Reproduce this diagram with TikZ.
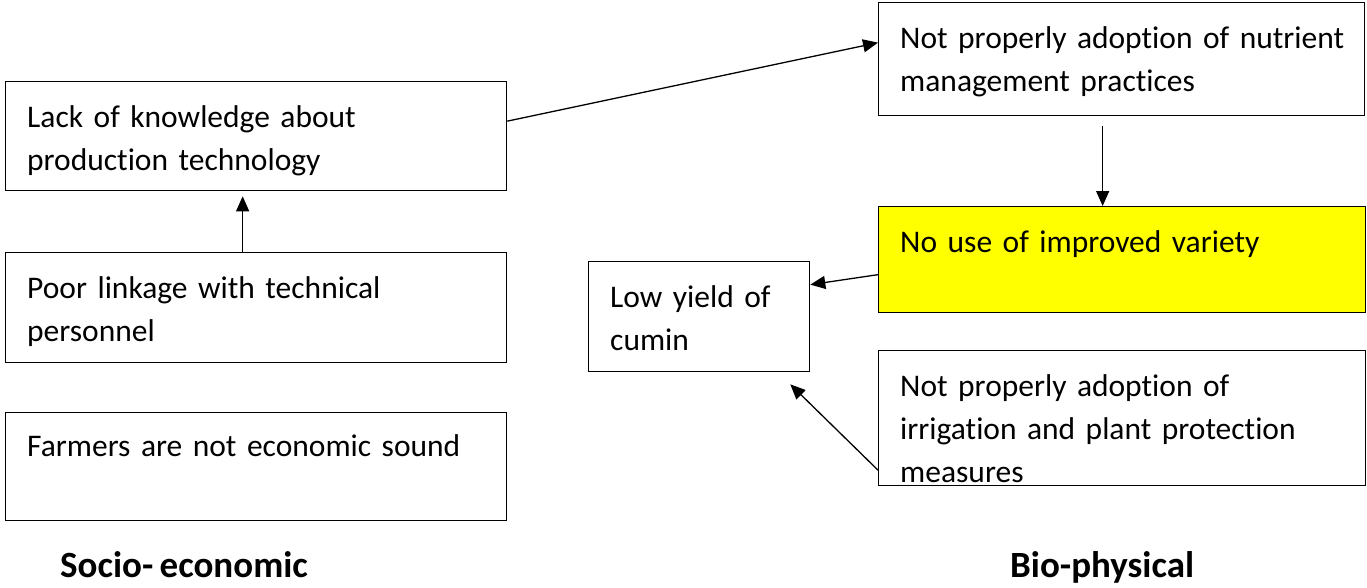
\documentclass[tikz,border=0pt]{standalone}
\usepackage{fontspec}
\setmainfont[Ligatures=NoCommon, WordSpace=0.75]{Carlito}
\usetikzlibrary{arrows.meta}
\begin{document}
\begin{tikzpicture}[x=1pt,y=-1pt,
  box/.style={draw=black, line width=1.3pt, anchor=north west, inner sep=0pt, rectangle},
  txt/.style={anchor=base west, inner sep=0pt, align=left, text width=470pt,
    font=\fontsize{31.5}{43}\selectfont},
  lbl/.style={anchor=base west, inner sep=0pt, font=\fontsize{37}{44}\selectfont\bfseries},
  arr/.style={line width=1.3pt, -{Triangle[length=15pt,width=13pt]}}]
\useasboundingbox (0,0) rectangle (1367,587);
% boxes
\node[box, minimum width=501pt, minimum height=109pt] (lack) at (5,81) {};
\node[box, minimum width=501pt, minimum height=110pt] (poor) at (5,252) {};
\node[box, minimum width=501pt, minimum height=108pt] (farm) at (5,412) {};
\node[box, minimum width=486pt, minimum height=113pt] (nutr) at (878,2) {};
\node[box, fill={rgb,255:red,255;green,255;blue,0}, minimum width=487pt, minimum height=106pt] (var) at (878,206) {};
\node[box, minimum width=221pt, minimum height=110pt] (low) at (588,261) {};
\node[box, minimum width=487pt, minimum height=135pt] (irr) at (878,350) {};
% texts
\node[txt] (lackT) at (27,127) {Lack of knowledge about\\production technology};
\node[txt] (poorT) at (27,298) {Poor linkage with technical\\personnel};
\node[txt] (farmT) at (27,456) {Farmers are not economic sound};
\node[txt] (nutrT) at (900,48) {Not properly adoption of nutrient\\management practices};
\node[txt] (varT) at (900,252) {No use of improved variety};
\node[txt, text width=190pt] (lowT) at (610,307) {Low yield of\\cumin};
\node[txt] (irrT) at (900,396) {Not properly adoption of\\irrigation and plant protection\\measures};
% labels
\node[lbl] (socio) at (60,577) {Socio- economic};
\node[lbl] (bio) at (1010,577) {Bio-physical};
% connectors
\draw[arr] ([xshift=-13.5pt]poor.north) -- ([xshift=-13.5pt,yshift=-5pt]lack.south);
\draw[arr] ([yshift=15pt]lack.east) -- ([yshift=16.5pt]nutr.west);
\draw[arr] ([xshift=-19pt,yshift=-10pt]nutr.south) -- ([xshift=-19.5pt]var.north);
\draw[arr] ([yshift=-15pt]var.west) -- ([yshift=32pt]low.east);
\draw[arr] ([yshift=-52pt]irr.west) -- ([xshift=-20pt,yshift=-12pt]low.south east);
\end{tikzpicture}
\end{document}
